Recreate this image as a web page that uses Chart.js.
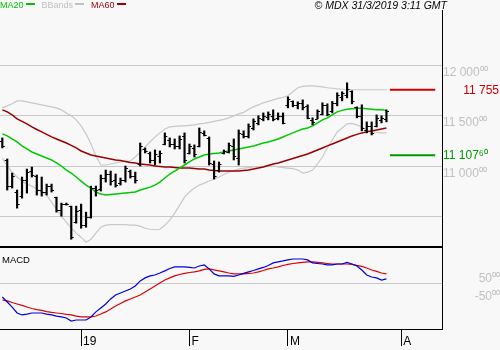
<!DOCTYPE html>
<html>
<head>
<meta charset="utf-8">
<script src="https://cdn.jsdelivr.net/npm/chart.js@4.4.1/dist/chart.umd.min.js"></script>
<style>
  body { margin: 0; background: #f8f8f8; }
  #wrap { position: relative; width: 500px; height: 350px; background: #f8f8f8; overflow: hidden;
          font-family: "Liberation Sans", Arial, sans-serif; }
  canvas { position: absolute; left: 0; }
  #price { top: 0; }
  #macd { top: 248px; }
  .legend { position: absolute; left: 0; top: 0; font-size: 9px; line-height: 10px; white-space: nowrap; }
  .legend .key { display: inline-block; width: 9px; height: 2px; vertical-align: 3px; margin: 0 7px 0 2px; }
  .stamp { position: absolute; right: 53px; top: 0; font-size: 10.5px; font-style: italic; line-height: 11px; }
  .pane-title { position: absolute; left: 2px; top: 255px; font-size: 9.5px; line-height: 10px; }
</style>
</head>
<body>
<div id="wrap">
  <canvas id="price" width="500" height="248"></canvas>
  <canvas id="macd" width="500" height="102"></canvas>
  <div class="legend">
    <span style="color:#00c000">MA20</span><span class="key" style="background:#00c000"></span><span style="color:#c0c0c0">BBands</span><span class="key" style="background:#c0c0c0"></span><span style="color:#990000">MA60</span><span class="key" style="background:#990000"></span>
  </div>
  <div class="stamp">© MDX 31/3/2019 3:11 GMT</div>
  <div class="pane-title">MACD</div>
</div>
<script>
// trading days, Dec 2018 - Mar 2019
const days = [
  '06/12','07/12','10/12','11/12','12/12','13/12','14/12','17/12','18/12','19/12','20/12','21/12','24/12','27/12','28/12','31/12',
  '02/01','03/01','04/01','07/01','08/01','09/01','10/01','11/01','14/01','15/01','16/01','17/01','18/01','21/01','22/01','23/01',
  '24/01','25/01','28/01','29/01','30/01','31/01',
  '01/02','04/02','05/02','06/02','07/02','08/02','11/02','12/02','13/02','14/02','15/02','18/02','19/02','20/02','21/02','22/02',
  '25/02','26/02','27/02','28/02',
  '01/03','04/03','05/03','06/03','07/03','08/03','11/03','12/03','13/03','14/03','15/03','18/03','19/03','20/03','21/03','22/03',
  '25/03','26/03','27/03','28/03','29/03'
];

const opens = [
  11250,11060,10800,10740,10700,10860,10950,10900,10760,10740, 10800,10690,10560,10620,10600,10450,10560,10420,10500,10780,
  10770,10880,10920,10860,10830,10860,10950,10900,11020,11170, 11130,11060,11100,11220,11260,11220,11200,11300,11130,11180,
  11200,11330,11280,11020,10960,11130,11140,11200,11080,11320, 11300,11380,11430,11470,11490,11500,11480,11500,11600,11640,
  11600,11620,11590,11460,11470,11520,11600,11540,11620,11680, 11700,11740,11580,11500,11360,11400,11400,11460,11470
];
const highs = [
  11278,11070,10930,10762,10891,10970,10990,10911,10891,10821, 10821,10692,10633,10633,10603,10603,10623,10543,10801,10801,
  10911,10960,10950,10921,10881,11000,10960,10940,11228,11179, 11139,11159,11149,11328,11278,11268,11298,11328,11218,11209,
  11377,11348,11288,11050,11040,11159,11228,11268,11357,11348, 11417,11467,11497,11526,11536,11556,11526,11526,11685,11645,
  11636,11655,11606,11477,11556,11626,11616,11640,11725,11735, 11824,11745,11586,11606,11437,11437,11506,11497,11556
];
const lows = [
  11179,10762,10782,10583,10682,10732,10891,10712,10702,10712, 10742,10543,10503,10613,10275,10434,10384,10394,10484,10702,
  10752,10841,10811,10791,10811,10841,10881,10831,11000,11129, 11030,11010,11030,11209,11189,11169,11169,11030,11119,11089,
  11189,11298,11010,10871,10940,11119,11129,11060,11010,11278, 11278,11357,11407,11447,11457,11447,11457,11417,11576,11586,
  11566,11556,11467,11407,11467,11506,11497,11526,11596,11645, 11675,11616,11477,11348,11328,11308,11387,11427,11437
];
const closes = [
  11200,10800,10900,10620,10860,10940,10910,10760,10740,10800, 10760,10560,10620,10625,10300,10550,10420,10500,10780,10760,
  10880,10920,10850,10810,10860,10980,10900,10860,11200,11150, 11060,11120,11130,11300,11220,11200,11270,11060,11200,11120,
  11340,11310,11030,10900,11020,11150,11210,11100,11330,11300, 11400,11450,11480,11500,11520,11470,11500,11430,11660,11600,
  11620,11580,11480,11440,11540,11600,11520,11620,11700,11720, 11760,11640,11500,11380,11400,11330,11480,11480,11540
];

const ma20 = [
  11318,11298,11268,11238,11199,11169,11139,11119,11099,11079, 11060,11030,11000,10960,10930,10891,10851,10811,10782,10742,
  10722,10712,10717,10722,10727,10732,10737,10742,10762,10777, 10791,10811,10841,10881,10921,10950,10980,11010,11040,11070,
  11089,11109,11119,11124,11129,11139,11149,11159,11169,11179, 11189,11199,11213,11228,11238,11253,11268,11288,11308,11328,
  11348,11367,11377,11397,11427,11457,11477,11506,11536,11551, 11561,11566,11571,11571,11566,11561,11556,11556,11551
];
const ma60 = [
  11556,11536,11506,11467,11442,11417,11387,11362,11338,11313, 11288,11268,11248,11228,11204,11179,11149,11129,11109,11099,
  11089,11079,11070,11060,11055,11045,11035,11030,11020,11015, 11010,11000,10995,10990,10990,10985,10980,10980,10980,10975,
  10970,10970,10960,10955,10950,10950,10950,10950,10950,10955, 10960,10970,10980,10990,11005,11020,11030,11045,11060,11074,
  11089,11104,11119,11139,11159,11179,11199,11218,11238,11258, 11278,11298,11313,11328,11338,11348,11357,11367,11377
];
const bbUpper = [
  11576,11596,11616,11645,11645,11636,11626,11616,11606,11596, 11586,11576,11556,11526,11497,11457,11397,11318,11218,11099,
  11010,11010,11020,11030,11040,11045,11050,11089,11139,11189, 11238,11288,11328,11367,11387,11392,11397,11397,11402,11407,
  11417,11422,11432,11442,11452,11462,11477,11497,11516,11531, 11561,11586,11606,11626,11640,11655,11670,11680,11695,11735,
  11775,11789,11794,11794,11789,11784,11775,11770,11765,11760, 11755,11755,11755,11755,11755,11755,11755,11755,11755
];
const bbLower = [
  11079,11000,10940,10891,10851,10821,10801,10772,10742,10712, 10643,10573,10503,10444,10384,10335,10295,10245,10275,10335,
  10394,10414,10419,10419,10419,10419,10414,10414,10404,10384, 10374,10369,10374,10414,10464,10533,10613,10692,10742,10782,
  10811,10831,10851,10871,10891,10916,10940,10955,10970,10980, 10985,10990,10990,10995,11005,11000,10990,10985,10980,10975,
  10960,10930,10940,10960,11020,11089,11179,11258,11338,11377, 11417,11422,11407,11387,11357,11343,11333,11328,11328
];

const macdLine = [
  -75,-103,-131,-164,-175,-170,-164,-164,-164,-170, -175,-181,-186,-192,-209,-203,-203,-203,-186,-158,
  -136,-114,-86,-64,-53,-42,-31,-14,14,31, 42,47,58,70,83,92,92,92,89,86,
  97,103,81,53,42,42,42,39,47,56, 64,72,81,89,100,114,120,125,131,136,
  136,136,131,114,111,108,103,103,108,108, 117,108,97,75,47,36,31,19,25
];
const signalLine = [
  -92,-97,-106,-114,-122,-131,-139,-145,-150,-156, -161,-164,-167,-172,-175,-181,-186,-186,-186,-181,
  -170,-158,-142,-125,-111,-97,-86,-75,-64,-47, -31,-14,3,19,31,42,50,56,61,64,
  70,78,81,75,70,64,58,53,53,53, 56,58,64,72,81,86,92,100,106,111,
  114,117,120,120,117,114,111,108,108,108, 108,106,100,95,86,75,67,58,53
];

// horizontal levels shown past the last bar
const levels = [11755, 11107.60];
const levelColors = ['#cc0000', '#009900'];
const levelShowDecimals = [false, true];

const priceTicks = [10500, 11000, 11500, 12000];
const labelledPriceTicks = [11000, 11500, 12000];
const macdTicks = [-50, 0, 50];
const monthTicks = [16, 38, 58, 81];
const monthLabels = ['19', 'F', 'M', 'A'];

const xMin = -0.47, xMax = 89.28;
const priceMin = 10198, priceMax = 12545;
const macdMin = -253, macdMax = 197;
const levelFrom = 78.7, levelTo = 87.9;

Chart.defaults.font.family = '"Liberation Sans", Arial, sans-serif';
Chart.defaults.animation = false;

const SUP = '⁰¹²³⁴⁵⁶⁷⁸⁹';
function fmtPrice(v, withDecimals) {
  const [whole, frac] = Math.abs(v).toFixed(2).split('.');
  const s = (v < 0 ? '-' : '') + whole.replace(/\B(?=(\d{3})+(?!\d))/g, ' ');
  return withDecimals ? s + [...frac].map(d => SUP[d]).join('') : s;
}

const pts = arr => arr.map((v, i) => ({ x: i, y: v }));

function lineSet(values, color, width) {
  return { type: 'line', data: pts(values), borderColor: color, borderWidth: width,
           pointRadius: 0, fill: false, tension: 0 };
}

/* ── open / close ticks on each bar ── */
const ohlcTicks = {
  id: 'ohlcTicks',
  afterDatasetsDraw(chart) {
    const { ctx, scales: { x, y } } = chart;
    ctx.save();
    ctx.strokeStyle = '#000';
    ctx.lineWidth = 1;
    ctx.beginPath();
    opens.forEach((o, i) => {
      const px = x.getPixelForValue(i);
      const yo = Math.round(y.getPixelForValue(o)) + 0.5;
      const yc = Math.round(y.getPixelForValue(closes[i])) + 0.5;
      ctx.moveTo(px - 2.5, yo); ctx.lineTo(px, yo);
      ctx.moveTo(px, yc); ctx.lineTo(px + 2.5, yc);
    });
    ctx.stroke();
    ctx.restore();
  }
};

/* ── level values in the right margin ── */
const levelLabels = {
  id: 'levelLabels',
  afterDraw(chart) {
    const { ctx, scales: { y } } = chart;
    ctx.save();
    ctx.font = '12px "Liberation Sans", Arial, sans-serif';
    ctx.textBaseline = 'middle';
    levels.forEach((v, k) => {
      const py = y.getPixelForValue(v) + 1;
      ctx.fillStyle = levelColors[k];
      if (levelShowDecimals[k]) {
        ctx.textAlign = 'left';
        ctx.fillText(fmtPrice(v, true), 443, py);
      } else {
        ctx.textAlign = 'right';
        ctx.fillText(fmtPrice(v, false), 499, py);
      }
    });
    ctx.restore();
  }
};

const noPad = s => { s.paddingTop = 0; s.paddingBottom = 0; s.paddingLeft = 0; s.paddingRight = 0; };

/* ── price pane ── */
new Chart(document.getElementById('price'), {
  type: 'line',
  data: {
    datasets: [
      { type: 'bar', data: highs.map((h, i) => ({ x: i, y: [lows[i], h] })),
        backgroundColor: '#000', barThickness: 1.5 },
      lineSet(ma20, '#00c800', 1.5),
      lineSet(ma60, '#990000', 1.5),
      lineSet(bbUpper, '#c8c8c8', 1.2),
      lineSet(bbLower, '#c8c8c8', 1.2),
      ...levels.map((v, k) => ({
        type: 'line', data: [{ x: levelFrom, y: v }, { x: levelTo, y: v }],
        borderColor: levelColors[k], borderWidth: 2, pointRadius: 0
      }))
    ]
  },
  options: {
    responsive: false,
    layout: { padding: { top: 10, left: 0, right: 0, bottom: 0 } },
    plugins: { legend: { display: false }, tooltip: { enabled: false } },
    scales: {
      x: {
        type: 'linear', min: xMin, max: xMax, offset: false,
        grid: { display: false },
        ticks: { display: false },
        border: { color: '#000', width: 2 },
        afterFit: s => { s.height = 1; noPad(s); }
      },
      y: {
        position: 'right', min: priceMin, max: priceMax,
        afterBuildTicks: s => { s.ticks = priceTicks.map(v => ({ value: v })); },
        grid: { color: '#c8c8c8', drawTicks: false },
        border: { color: '#000', width: 1 },
        ticks: {
          callback: v => labelledPriceTicks.includes(v) ? fmtPrice(v, true) : '',
          color: '#c0c0c0', font: { size: 12 }, padding: 1, labelOffset: 7.5, crossAlign: 'near'
        },
        afterFit: s => { s.width = 58; noPad(s); }
      }
    }
  },
  plugins: [ohlcTicks, levelLabels]
});

/* ── MACD pane ── */
new Chart(document.getElementById('macd'), {
  type: 'line',
  data: {
    datasets: [
      lineSet(macdLine, '#0000dd', 1.2),
      lineSet(signalLine, '#dd0000', 1.2)
    ]
  },
  options: {
    responsive: false,
    layout: { padding: 0 },
    plugins: { legend: { display: false }, tooltip: { enabled: false } },
    scales: {
      x: {
        type: 'linear', min: xMin, max: xMax, offset: false,
        afterBuildTicks: s => { s.ticks = monthTicks.map(v => ({ value: v })); },
        grid: { drawOnChartArea: false, tickLength: 17, color: '#000' },
        border: { color: '#000', width: 1 },
        ticks: {
          callback: (v, i) => monthLabels[i],
          align: 'start', labelOffset: 2, padding: -12, color: '#000',
          font: { size: 12 }, maxRotation: 0, autoSkip: false
        },
        afterFit: s => { s.height = 21; noPad(s); }
      },
      y: {
        position: 'right', min: macdMin, max: macdMax,
        afterBuildTicks: s => { s.ticks = macdTicks.map(v => ({ value: v })); },
        grid: { color: c => c.tick && c.tick.value === 0 ? '#c8c8c8' : 'rgba(0,0,0,0)', drawTicks: false },
        border: { color: '#000', width: 1 },
        ticks: {
          callback: v => v === 0 ? '' : fmtPrice(v, true),
          color: '#c0c0c0', font: { size: 12 }, padding: 24, labelOffset: 4.5, crossAlign: 'far'
        },
        afterFit: s => { s.width = 58; noPad(s); }
      }
    }
  }
});
</script>
</body>
</html>
